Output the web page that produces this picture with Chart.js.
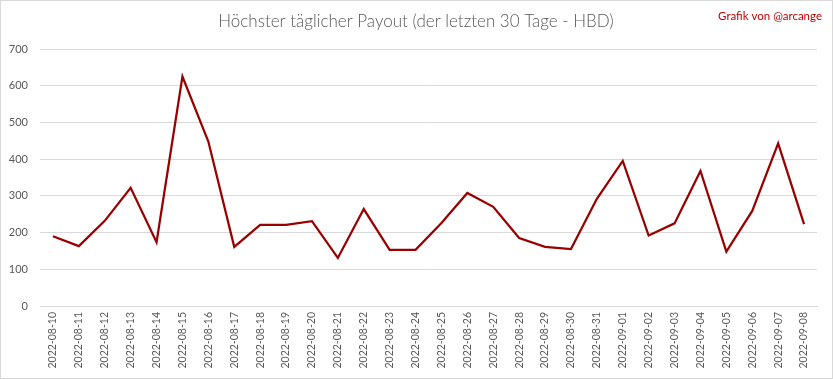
<!DOCTYPE html>
<html>
<head>
<meta charset="utf-8">
<script src="https://cdn.jsdelivr.net/npm/chart.js@4"></script>
<style>
  html, body { margin: 0; padding: 0; background: #fff; }
  #wrap { width: 833px; height: 379px; position: relative; }
</style>
</head>
<body>
<div id="wrap"><canvas id="chartPayout" width="833" height="379"></canvas></div>
<script>
// Tage (x-Achse)
const tage = [
  "2022-08-10", "2022-08-11", "2022-08-12", "2022-08-13", "2022-08-14",
  "2022-08-15", "2022-08-16", "2022-08-17", "2022-08-18", "2022-08-19",
  "2022-08-20", "2022-08-21", "2022-08-22", "2022-08-23", "2022-08-24",
  "2022-08-25", "2022-08-26", "2022-08-27", "2022-08-28", "2022-08-29",
  "2022-08-30", "2022-08-31", "2022-09-01", "2022-09-02", "2022-09-03",
  "2022-09-04", "2022-09-05", "2022-09-06", "2022-09-07", "2022-09-08"
];

// höchster Payout pro Tag (HBD)
const payout = [
  190, 163, 232, 322, 174,
  625, 448, 161, 221, 221,
  231, 131, 264, 153, 153,
  226, 308, 270, 185, 161,
  155, 292, 395, 192, 225,
  368, 148, 259, 443, 223
];

const yTicks = [0, 100, 200, 300, 400, 500, 600, 700];

const titel = "Höchster täglicher Payout (der letzten 30 Tage - HBD)";
const wasserzeichen = "Grafik von @arcange";

const ctx = document.querySelector("#chartPayout");

// rahmen, titel + "Grafik von" oben rechts
const extras = {
  id: "extras",
  afterDraw(chart) {
    const c = chart.ctx;
    c.save();
    c.strokeStyle = "#d9d9d9";
    c.lineWidth = 1;
    c.strokeRect(0.5, 0.5, 832, 378);
    c.textBaseline = "middle";
    c.fillStyle = "#595959";
    c.font = "300 17px Lato";
    c.textAlign = "center";
    c.fillText(titel, 416, 22);
    c.fillStyle = "#c00000";
    c.font = "11.5px Lato";
    c.textAlign = "right";
    c.fillText(wasserzeichen, 822, 16);
    c.restore();
  }
};

const myChart = new Chart(ctx, {
  type: "line",
  data: {
    labels: tage,
    datasets: [
      {
        data: payout,
        borderColor: "#990000",
        backgroundColor: "#990000",
        borderWidth: 2.25,
        pointRadius: 0,
        tension: 0,
      },
    ],
  },
  options: {
    responsive: false,
    animation: false,
    layout: { padding: { left: 0, right: 16, top: 49, bottom: 0 } },
    plugins: {
      legend: { display: false },
      tooltip: { enabled: false },
      title: { display: false },
    },
    scales: {
      x: {
        offset: true,
        grid: { display: false, drawTicks: false },
        border: { color: "#d9d9d9" },
        ticks: {
          color: "#595959",
          font: { family: "Lato", size: 10.5 },
          minRotation: 90,
          maxRotation: 90,
          autoSkip: false,
          padding: 6,
        },
        afterFit: (scale) => { scale.height = 73; },
      },
      y: {
        min: 0,
        max: 700,
        afterBuildTicks: (scale) => { scale.ticks = yTicks.map((v) => ({ value: v })); },
        grid: { color: "#d9d9d9", drawTicks: false },
        border: { display: false },
        ticks: {
          color: "#595959",
          font: { family: "Lato", size: 11 },
          padding: 12,
        },
        afterFit: (scale) => { scale.width = 40; },
      },
    },
  },
  plugins: [extras],
});
</script>
</body>
</html>
